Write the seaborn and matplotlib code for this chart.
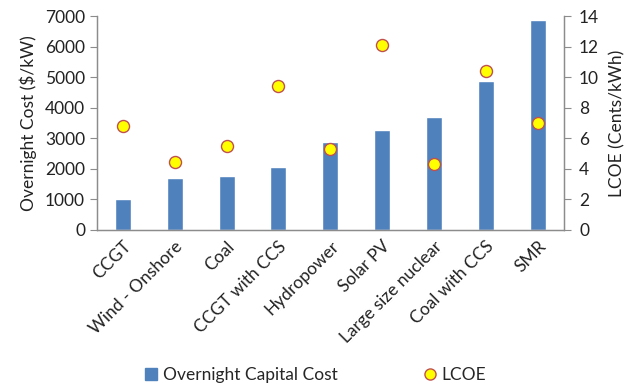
import matplotlib
matplotlib.use("Agg")
import matplotlib.pyplot as plt
import seaborn as sns
import numpy as np
from matplotlib.lines import Line2D
from matplotlib.patches import Patch

technologies = ["CCGT", "Wind - Onshore", "Coal", "CCGT with CCS", "Hydropower",
                "Solar PV", "Large size nuclear", "Coal with CCS", "SMR"]
overnight_cost = [1025, 1690, 1755, 2075, 2890, 3270, 3685, 4860, 6860]
lcoe = [6.8, 4.45, 5.5, 9.45, 5.3, 12.1, 4.3, 10.4, 7.0]

BAR = "#4F81BD"
GRAY = "#8C8C8C"

sns.set_style("white")
plt.rcParams["font.family"] = ["Lato", "DejaVu Sans"]
plt.rcParams["font.size"] = 12.5

fig = plt.figure(figsize=(6.25, 3.85), dpi=100)
ax = fig.add_axes([0.155, 0.403, 0.747, 0.555])

sns.barplot(x=technologies, y=overnight_cost, color=BAR, width=0.31,
            saturation=1, ax=ax)
ax.set_ylim(0, 7000)
ax.set_yticks(np.arange(0, 7001, 1000))
ax.set_xlim(-0.5, len(technologies) - 0.5)
ax.set_ylabel("Overnight Cost ($/kW)", color="#222222", labelpad=6)
ax.set_xlabel("")

ax2 = ax.twinx()
sns.scatterplot(x=technologies, y=lcoe, ax=ax2, s=75, color="#FFFF00",
                edgecolor="#C0504D", linewidth=1.0, zorder=5)
ax2.set_ylim(0, 14)
ax2.set_yticks(np.arange(0, 15, 2))
ax2.set_ylabel("LCOE (Cents/kWh)", color="#222222", labelpad=7)

# x tick marks between categories, labels at centres
ax.set_xticks(np.arange(len(technologies)))
ax.set_xticklabels(technologies, rotation=45, ha="right", rotation_mode="anchor",
                   color="#222222")
ax.set_xticks(np.arange(-0.5, len(technologies)), minor=True)
ax.tick_params(axis="x", which="major", length=0, pad=6)
ax.tick_params(axis="x", which="minor", length=5, color=GRAY, direction="out")
ax.tick_params(axis="y", length=5, color=GRAY, direction="out", left=True,
               labelcolor="#222222")
ax2.tick_params(axis="y", length=5, color=GRAY, direction="out", right=True,
                labelcolor="#222222", pad=6)

for a in (ax, ax2):
    a.spines["top"].set_visible(False)
    for side in ("left", "right", "bottom"):
        a.spines[side].set_color(GRAY)
        a.spines[side].set_linewidth(0.9)

handles = [Patch(facecolor=BAR, edgecolor=BAR),
           Line2D([], [], marker="o", linestyle="", markersize=8,
                  markerfacecolor="#FFFF00", markeredgecolor="#C0504D")]
fig.legend(handles, ["Overnight Capital Cost", "LCOE"], loc="center",
           bbox_to_anchor=(0.505, 0.026), ncol=2, frameon=False,
           handlelength=0.7, handleheight=0.7, handletextpad=0.3,
           columnspacing=5.0, fontsize=12.5)

fig.savefig("out.png", dpi=100)
